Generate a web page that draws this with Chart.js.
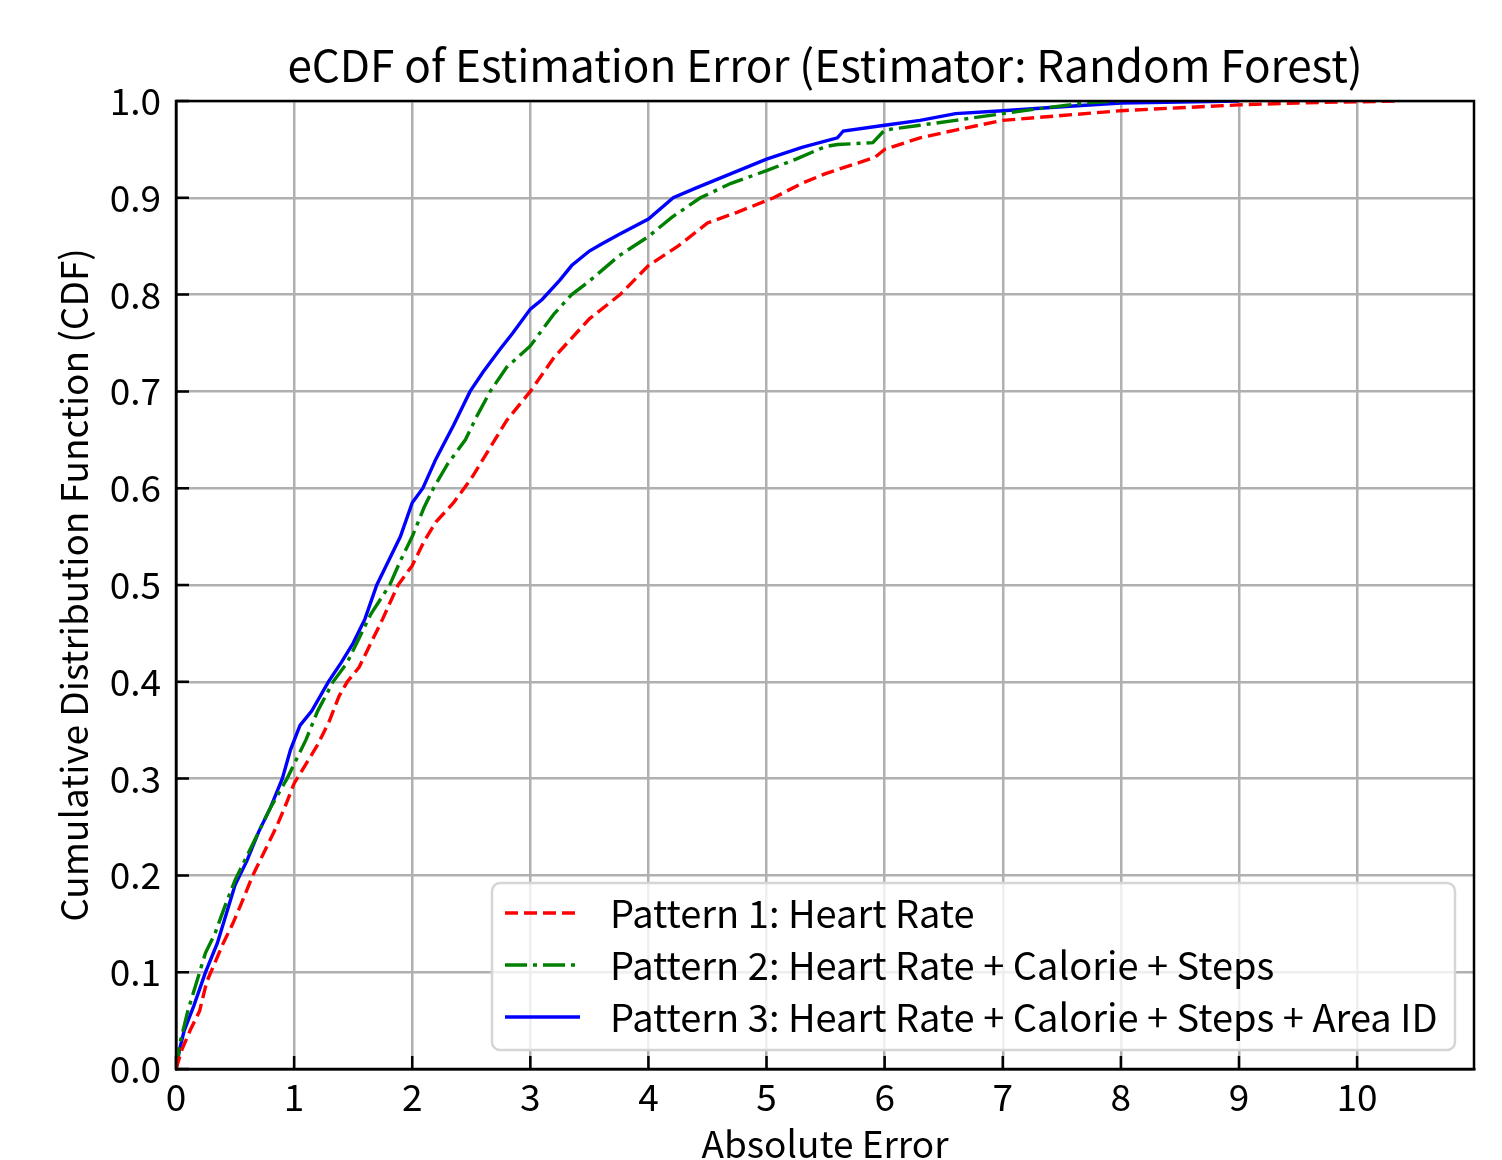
<!DOCTYPE html>
<html>
<head>
<meta charset="utf-8">
<script src="https://cdn.jsdelivr.net/npm/chart.js@4.4.1/dist/chart.umd.min.js"></script>
<style>
  html, body { margin: 0; padding: 0; background: #fff; }
  #wrap { width: 1502px; height: 1160px; }
</style>
</head>
<body>
<div id="wrap"><canvas id="cdfChart" width="1502" height="1160"></canvas></div>
<script>
// eCDF of absolute error
const p1Err = [0, 0.05, 0.12, 0.2, 0.26, 0.33, 0.4, 0.48, 0.55, 0.65, 0.75, 0.85, 0.92, 1.0, 1.1, 1.2, 1.3, 1.38, 1.45, 1.55, 1.65, 1.75, 1.88, 2.0, 2.1, 2.2, 2.35, 2.5, 2.65, 2.8, 2.9, 3.0, 3.2, 3.5, 3.76, 4.0, 4.25, 4.5, 4.75, 5.06, 5.3, 5.5, 5.75, 5.92, 6.0, 6.3, 6.6, 7.0, 7.5, 8.0, 8.5, 9.0, 9.5, 10.35];
const p1Cdf = [0, 0.02, 0.04, 0.06, 0.09, 0.11, 0.13, 0.15, 0.17, 0.2, 0.225, 0.25, 0.27, 0.295, 0.315, 0.335, 0.36, 0.385, 0.4, 0.415, 0.44, 0.465, 0.5, 0.52, 0.545, 0.565, 0.585, 0.61, 0.64, 0.67, 0.685, 0.70, 0.735, 0.775, 0.80, 0.83, 0.85, 0.874, 0.885, 0.9, 0.915, 0.925, 0.935, 0.942, 0.95, 0.962, 0.97, 0.98, 0.985, 0.99, 0.993, 0.996, 0.998, 1.0];

const p2Err = [0, 0.04, 0.1, 0.2, 0.25, 0.33, 0.42, 0.5, 0.6, 0.7, 0.8, 0.94, 1.0, 1.1, 1.2, 1.33, 1.45, 1.55, 1.65, 1.81, 1.9, 2.0, 2.1, 2.18, 2.3, 2.45, 2.55, 2.66, 2.8, 3.0, 3.2, 3.35, 3.5, 3.75, 4.0, 4.2, 4.44, 4.7, 5.0, 5.25, 5.5, 5.6, 5.9, 6.0, 6.3, 6.6, 7.0, 7.3, 7.7, 8.0];
const p2Cdf = [0, 0.03, 0.06, 0.1, 0.12, 0.14, 0.17, 0.195, 0.22, 0.245, 0.27, 0.30, 0.315, 0.34, 0.37, 0.40, 0.42, 0.445, 0.47, 0.50, 0.525, 0.55, 0.58, 0.60, 0.625, 0.65, 0.675, 0.70, 0.725, 0.747, 0.78, 0.80, 0.814, 0.84, 0.86, 0.88, 0.9, 0.915, 0.928, 0.94, 0.953, 0.955, 0.957, 0.97, 0.975, 0.98, 0.987, 0.992, 0.998, 1.0];

const p3Err = [0, 0.03, 0.07, 0.15, 0.25, 0.35, 0.45, 0.5, 0.6, 0.7, 0.8, 0.9, 0.97, 1.05, 1.15, 1.29, 1.4, 1.5, 1.6, 1.7, 1.8, 1.9, 2.0, 2.09, 2.2, 2.35, 2.49, 2.6, 2.74, 2.85, 3.0, 3.1, 3.25, 3.35, 3.5, 3.6, 3.75, 4.0, 4.21, 4.4, 4.7, 5.0, 5.3, 5.6, 5.65, 6.0, 6.3, 6.6, 7.0, 7.5, 8.0, 8.5, 9.0];
const p3Cdf = [0, 0.02, 0.04, 0.065, 0.1, 0.13, 0.17, 0.19, 0.215, 0.245, 0.27, 0.30, 0.33, 0.355, 0.37, 0.40, 0.42, 0.44, 0.465, 0.50, 0.525, 0.55, 0.585, 0.60, 0.63, 0.665, 0.70, 0.72, 0.743, 0.76, 0.785, 0.795, 0.815, 0.83, 0.845, 0.852, 0.862, 0.878, 0.90, 0.91, 0.925, 0.94, 0.952, 0.962, 0.969, 0.975, 0.98, 0.987, 0.99, 0.994, 0.998, 0.999, 1.0];

const seriesLabels = [
  'Pattern 1: Heart Rate',
  'Pattern 2: Heart Rate + Calorie + Steps',
  'Pattern 3: Heart Rate + Calorie + Steps + Area ID'
];
const xTickValues = [0, 1, 2, 3, 4, 5, 6, 7, 8, 9, 10];
const yTickValues = [0, 0.1, 0.2, 0.3, 0.4, 0.5, 0.6, 0.7, 0.8, 0.9, 1.0];

const FONT = "'Noto Sans CJK JP', 'Noto Sans', sans-serif";

function toPoints(xs, ys) {
  return xs.map((x, i) => ({ x: x, y: ys[i] }));
}

// 枠線・内向き目盛・タイトル・凡例を描く
const decorPlugin = {
  id: 'decor',
  afterDraw(chart) {
    const { ctx, chartArea: a, scales } = chart;
    ctx.save();

    // inward ticks (left / bottom)
    ctx.strokeStyle = '#000';
    ctx.lineWidth = 2.5;
    ctx.beginPath();
    xTickValues.forEach(v => {
      const px = scales.x.getPixelForValue(v);
      ctx.moveTo(px, a.bottom);
      ctx.lineTo(px, a.bottom - 13);
    });
    yTickValues.forEach(v => {
      const py = scales.y.getPixelForValue(v);
      ctx.moveTo(a.left, py);
      ctx.lineTo(a.left + 13, py);
    });
    ctx.stroke();

    // frame
    ctx.lineWidth = 2.5;
    ctx.strokeRect(a.left, a.top, a.right - a.left, a.bottom - a.top);

    // title
    ctx.fillStyle = '#000';
    ctx.textAlign = 'center';
    ctx.textBaseline = 'middle';
    ctx.font = `44px ${FONT}`;
    ctx.fillText('eCDF of Estimation Error (Estimator: Random Forest)', (a.left + a.right) / 2, 65);

    // axis titles
    ctx.font = `37px ${FONT}`;
    ctx.fillText('Absolute Error', (a.left + a.right) / 2, 1144);
    ctx.save();
    ctx.translate(74, (a.top + a.bottom) / 2);
    ctx.rotate(-Math.PI / 2);
    ctx.fillText('Cumulative Distribution Function (CDF)', 0, 0);
    ctx.restore();

    // legend box
    const lx = 492, ly = 883, lw = 963, lh = 167, r = 8;
    ctx.beginPath();
    ctx.moveTo(lx + r, ly);
    ctx.arcTo(lx + lw, ly, lx + lw, ly + lh, r);
    ctx.arcTo(lx + lw, ly + lh, lx, ly + lh, r);
    ctx.arcTo(lx, ly + lh, lx, ly, r);
    ctx.arcTo(lx, ly, lx + lw, ly, r);
    ctx.closePath();
    ctx.fillStyle = 'rgba(255,255,255,0.8)';
    ctx.fill();
    ctx.strokeStyle = '#d5d5d5';
    ctx.lineWidth = 2.5;
    ctx.stroke();

    const rows = [913, 965, 1017];
    chart.data.datasets.forEach((ds, i) => {
      ctx.beginPath();
      ctx.setLineDash(ds.borderDash || []);
      ctx.strokeStyle = ds.borderColor;
      ctx.lineWidth = ds.borderWidth;
      ctx.moveTo(505, rows[i]);
      ctx.lineTo(580, rows[i]);
      ctx.stroke();
      ctx.setLineDash([]);
      ctx.fillStyle = '#000';
      ctx.textAlign = 'left';
      ctx.font = `38px ${FONT}`;
      ctx.fillText(ds.label, 610, rows[i] + 1);
    });

    ctx.restore();
  }
};

const ctx = document.getElementById('cdfChart').getContext('2d');
new Chart(ctx, {
  type: 'line',
  data: {
    datasets: [
      {
        label: seriesLabels[0],
        data: toPoints(p1Err, p1Cdf),
        borderColor: '#ff0000',
        borderWidth: 3.4,
        borderDash: [13, 6],
        pointRadius: 0,
        tension: 0,
        fill: false
      },
      {
        label: seriesLabels[1],
        data: toPoints(p2Err, p2Cdf),
        borderColor: '#008000',
        borderWidth: 3.4,
        borderDash: [22, 6, 4, 6],
        pointRadius: 0,
        tension: 0,
        fill: false
      },
      {
        label: seriesLabels[2],
        data: toPoints(p3Err, p3Cdf),
        borderColor: '#0000ff',
        borderWidth: 3.4,
        pointRadius: 0,
        tension: 0,
        fill: false
      }
    ]
  },
  options: {
    responsive: false,
    animation: false,
    layout: { padding: { left: 0, right: 28, top: 101, bottom: 0 } },
    plugins: {
      legend: { display: false },
      title: { display: false },
      tooltip: { enabled: false }
    },
    scales: {
      x: {
        type: 'linear',
        min: 0,
        max: 10.99,
        afterBuildTicks: scale => {
          scale.ticks = xTickValues.map(v => ({ value: v }));
        },
        afterFit: scale => { scale.height = 91; },
        ticks: {
          color: '#000',
          font: { family: FONT, size: 37 },
          padding: 6,
          maxRotation: 0,
          callback: v => String(v)
        },
        grid: { color: '#b0b0b0', lineWidth: 2.5, drawTicks: false },
        border: { display: true, color: '#000', width: 2.5 }
      },
      y: {
        type: 'linear',
        min: 0,
        max: 1,
        afterBuildTicks: scale => {
          scale.ticks = yTickValues.map(v => ({ value: v }));
        },
        afterFit: scale => { scale.width = 176; },
        ticks: {
          color: '#000',
          font: { family: FONT, size: 37 },
          padding: 15,
          callback: v => Number(v).toFixed(1)
        },
        grid: { color: '#b0b0b0', lineWidth: 2.5, drawTicks: false },
        border: { display: true, color: '#000', width: 2.5 }
      }
    }
  },
  plugins: [decorPlugin]
});
</script>
</body>
</html>
